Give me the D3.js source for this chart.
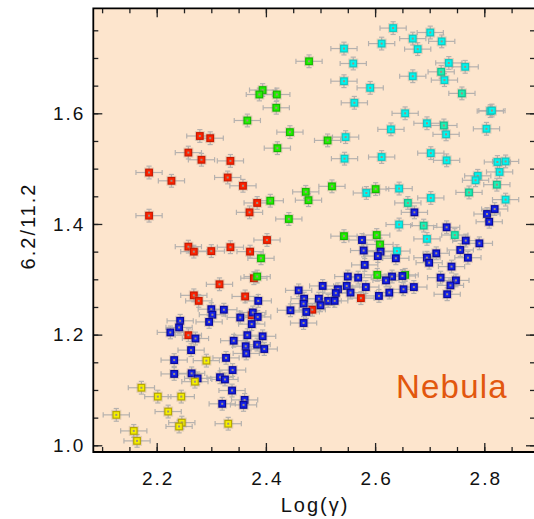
<!DOCTYPE html>
<html><head><meta charset="utf-8">
<script src="https://cdn.jsdelivr.net/npm/d3@7"></script>
<style>body{margin:0;background:#fff}</style>
</head><body><svg id="c" width="534" height="519"></svg>
<script>
// ---- data ----
const xTicks=[2.2,2.4,2.6,2.8];
const yTicks=[1.0,1.2,1.4,1.6];
const xLabel="Log(γ)";
const yLabel="6.2/11.2";
const panelLabel="Nebula";

const redX=[2.279,2.298,2.258,2.282,2.335,2.186,2.227,2.330,2.358,2.384,2.370,2.186,2.402,2.258,2.268,2.300,2.335,2.371,2.378,2.315,2.268,2.362,2.277,2.374,2.485,2.574,2.258];
const redY=[1.559,1.555,1.529,1.516,1.514,1.493,1.478,1.484,1.469,1.438,1.421,1.415,1.371,1.359,1.350,1.351,1.358,1.350,1.302,1.291,1.271,1.269,1.261,1.235,1.245,1.266,1.199];

const greenX=[2.479,2.394,2.388,2.420,2.419,2.366,2.444,2.513,2.421,2.521,2.601,2.473,2.408,2.478,2.442,2.543,2.603,2.609,2.391,2.384,2.604,2.655];
const greenY=[1.694,1.642,1.634,1.634,1.610,1.587,1.566,1.551,1.537,1.468,1.463,1.458,1.442,1.443,1.409,1.378,1.380,1.363,1.338,1.305,1.308,1.308];

const cyanX=[2.633,2.701,2.669,2.722,2.612,2.543,2.678,2.560,2.735,2.765,2.669,2.727,2.543,2.591,2.562,2.811,2.814,2.655,2.695,2.629,2.804,2.730,2.546,2.544,2.612,2.702,2.731,2.824,2.839,2.828,2.788,2.784,2.644,2.584,2.702,2.839,2.644,2.695,2.640];
const cyanY=[1.754,1.746,1.735,1.730,1.726,1.717,1.716,1.690,1.691,1.684,1.667,1.660,1.658,1.646,1.619,1.604,1.605,1.600,1.582,1.571,1.572,1.562,1.557,1.518,1.521,1.528,1.515,1.512,1.513,1.494,1.487,1.479,1.464,1.456,1.447,1.444,1.399,1.373,1.351];

const tealX=[2.721,2.759,2.726,2.823,2.772,2.660,2.689,2.746];
const tealY=[1.675,1.636,1.578,1.471,1.457,1.438,1.397,1.380];

const blueX=[2.672,2.805,2.819,2.809,2.731,2.576,2.766,2.791,2.579,2.610,2.756,2.712,2.605,2.638,2.695,2.770,2.699,2.581,2.740,2.720,2.550,2.569,2.631,2.650,2.620,2.748,2.504,2.548,2.583,2.738,2.671,2.532,2.652,2.460,2.528,2.555,2.626,2.607,2.732,2.470,2.497,2.514,2.526,2.469,2.500,2.445,2.474,2.469,
 2.386,2.300,2.323,2.302,2.376,2.353,2.385,2.243,2.296,2.374,2.241,2.225,2.366,2.394,2.271,2.341,2.363,2.384,2.397,2.263,2.364,2.327,2.232,2.339,2.232,2.264,2.275,2.316,2.325,2.338,2.320,2.361,2.359];
const blueY=[1.421,1.418,1.427,1.404,1.394,1.371,1.370,1.365,1.352,1.350,1.353,1.347,1.342,1.338,1.339,1.339,1.330,1.326,1.323,1.303,1.305,1.303,1.305,1.306,1.298,1.298,1.288,1.288,1.286,1.289,1.286,1.282,1.282,1.280,1.275,1.276,1.276,1.270,1.273,1.265,1.265,1.261,1.261,1.256,1.253,1.244,1.241,1.221,
 1.261,1.246,1.245,1.236,1.240,1.231,1.232,1.225,1.223,1.219,1.213,1.204,1.199,1.197,1.193,1.189,1.179,1.182,1.174,1.172,1.166,1.158,1.154,1.136,1.129,1.130,1.121,1.123,1.119,1.099,1.075,1.082,1.073];

const yellowX=[2.291,2.172,2.202,2.245,2.270,2.221,2.126,2.246,2.241,2.331,2.158,2.164];
const yellowY=[1.153,1.104,1.088,1.088,1.115,1.061,1.055,1.041,1.034,1.039,1.026,1.008];

const xErr=0.024, yErr=0.0115;

// ---- layout ----
const L=93.3, R=535, T=8.3, B=452;
const x=d3.scaleLinear().domain([2.2-(156.7-L)/546, 2.8+(R-484.3)/546]).range([L,R]);
const y=d3.scaleLinear().domain([1.0-(B-445.3)/553.3, 1.6+(113.3-T)/553.3]).range([B,T]);

const svg=d3.select("#c");
svg.append("rect").attr("x",L).attr("y",T).attr("width",R-L).attr("height",B-T).attr("fill","#fde5cd");

const series=[
 {xs:redX,ys:redY,fill:"#ff2200",stroke:"#c81a00"},
 {xs:greenX,ys:greenY,fill:"#22f000",stroke:"#15b800"},
 {xs:cyanX,ys:cyanY,fill:"#00f6f0",stroke:"#14c8c0"},
 {xs:tealX,ys:tealY,fill:"#1cf0b4",stroke:"#14c090"},
 {xs:blueX,ys:blueY,fill:"#1420e6",stroke:"#0a0a9a"},
 {xs:yellowX,ys:yellowY,fill:"#f4f000",stroke:"#b8a800"}
];
const pts=[];
series.forEach(s=>s.xs.forEach((v,i)=>pts.push({x:v,y:s.ys[i],fill:s.fill,stroke:s.stroke})));

svg.append("clipPath").attr("id","pc").append("rect").attr("x",L).attr("y",T).attr("width",R-L).attr("height",B-T);
const g=svg.append("g").attr("clip-path","url(#pc)");

// error bars
const eb=g.append("g").attr("stroke","#a9a9a9").attr("stroke-width",1.2).attr("opacity",0.85);
pts.forEach(p=>{
  const cx=x(p.x), cy=y(p.y);
  const x0=x(p.x-xErr), x1=x(p.x+xErr), y0=y(p.y-yErr), y1=y(p.y+yErr);
  eb.append("line").attr("x1",x0).attr("x2",x1).attr("y1",cy).attr("y2",cy);
  eb.append("line").attr("x1",x0).attr("x2",x0).attr("y1",cy-2.6).attr("y2",cy+2.6);
  eb.append("line").attr("x1",x1).attr("x2",x1).attr("y1",cy-2.6).attr("y2",cy+2.6);
  eb.append("line").attr("x1",cx).attr("x2",cx).attr("y1",y0).attr("y2",y1);
  eb.append("line").attr("x1",cx-2.6).attr("x2",cx+2.6).attr("y1",y0).attr("y2",y0);
  eb.append("line").attr("x1",cx-2.6).attr("x2",cx+2.6).attr("y1",y1).attr("y2",y1);
});
// markers
const mk=g.append("g");
pts.forEach(p=>{
  const cx=x(p.x), cy=y(p.y);
  mk.append("rect").attr("x",cx-5).attr("y",cy-5).attr("width",10).attr("height",10).attr("fill","#9a8c80").attr("opacity",0.28);
  mk.append("rect").attr("x",cx-3.3).attr("y",cy-3.3).attr("width",6.6).attr("height",6.6).attr("fill",p.fill).attr("stroke",p.stroke).attr("stroke-width",1.2);
  mk.append("rect").attr("x",cx-1).attr("y",cy-1).attr("width",2).attr("height",2).attr("fill","#a09080");
});

// axes
const fnt="'Liberation Sans', Arial, sans-serif";
const minorX=d3.range(2.1,2.9,0.05).map(v=>+v.toFixed(2));
const minorY=d3.range(1.0,1.8,0.05).map(v=>+v.toFixed(2));
function styl(sel){sel.select(".domain").remove();sel.selectAll("line").attr("stroke","#222").attr("stroke-width",1.3);}
svg.append("g").attr("transform",`translate(0,${B})`).call(d3.axisBottom(x).tickValues(minorX).tickSize(-5).tickFormat("")).call(styl);
svg.append("g").attr("transform",`translate(0,${T})`).call(d3.axisTop(x).tickValues(minorX).tickSize(-5).tickFormat("")).call(styl);
svg.append("g").attr("transform",`translate(${L},0)`).call(d3.axisLeft(y).tickValues(minorY).tickSize(-5).tickFormat("")).call(styl);
svg.append("g").attr("transform",`translate(${R},0)`).call(d3.axisRight(y).tickValues(minorY).tickSize(-5).tickFormat("")).call(styl);
const xb=svg.append("g").attr("transform",`translate(0,${B})`).call(d3.axisBottom(x).tickValues(xTicks).tickSize(-9).tickPadding(19.5).tickFormat(d3.format(".1f"))).call(styl);
svg.append("g").attr("transform",`translate(0,${T})`).call(d3.axisTop(x).tickValues(xTicks).tickSize(-9).tickFormat("")).call(styl);
const yl=svg.append("g").attr("transform",`translate(${L},0)`).call(d3.axisLeft(y).tickValues(yTicks).tickSize(-9).tickPadding(8).tickFormat(d3.format(".1f"))).call(styl);
svg.append("g").attr("transform",`translate(${R},0)`).call(d3.axisRight(y).tickValues(yTicks).tickSize(-9).tickFormat("")).call(styl);
[xb,yl].forEach(a=>a.selectAll("text").attr("font-family",fnt).attr("font-size",19).attr("letter-spacing","2px").attr("fill","#111"));
xb.selectAll("text").attr("dx","1px");

// frame
svg.append("path").attr("d",`M${R},${T}H${L}V${B}H${R}`).attr("fill","none").attr("stroke","#000").attr("stroke-width",1.8);

// labels
svg.append("text").attr("x",314+1).attr("y",511.7).attr("text-anchor","middle").attr("font-family",fnt).attr("font-size",20).attr("letter-spacing","2px").attr("fill","#111").text(xLabel);
svg.append("text").attr("transform","translate(34.5,227) rotate(-90)").attr("dx","1px").attr("text-anchor","middle").attr("font-family",fnt).attr("font-size",20).attr("letter-spacing","2px").attr("fill","#111").text(yLabel);
svg.append("text").attr("x",396).attr("y",398.3).attr("font-family",fnt).attr("font-size",33).attr("letter-spacing","1.2px").attr("fill","#e2570e").text(panelLabel);
</script></body></html>
